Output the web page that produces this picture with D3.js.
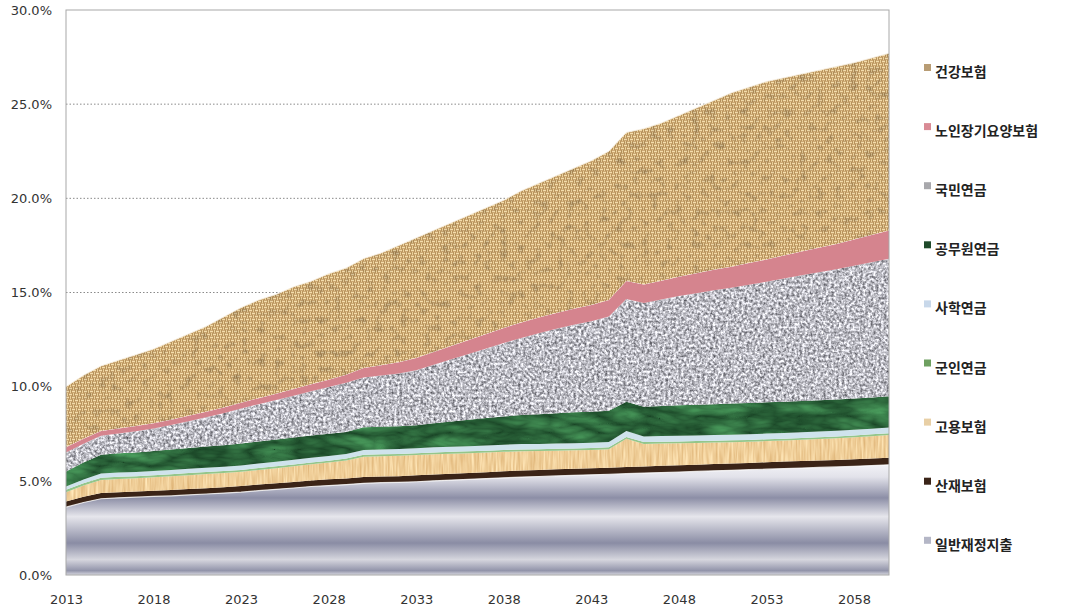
<!DOCTYPE html>
<html><head><meta charset="utf-8">
<script src="https://cdn.jsdelivr.net/npm/d3@7"></script>
<style>body{margin:0;background:#fff}svg{display:block}</style>
</head><body>
<svg id="chart" width="1068" height="610"></svg>
<script>
// ---------- data ----------
const years = [2013,2014,2015,2016,2017,2018,2019,2020,2021,2022,
  2023,2024,2025,2026,2027,2028,2029,2030,2031,2032,
  2033,2034,2035,2036,2037,2038,2039,2040,2041,2042,
  2043,2044,2045,2046,2047,2048,2049,2050,2051,2052,
  2053,2054,2055,2056,2057,2058,2059,2060];
const xTickYears = [2013,2018,2023,2028,2033,2038,2043,2048,2053,2058];
const yTicks = [0,5,10,15,20,25,30];
const gridTicks = [5,10,15,20,25];

// series (% of GDP), bottom to top of the stack
const general = [3.60,3.85,4.05,4.10,4.13,4.17,4.20,4.25,4.30,4.35,
  4.40,4.48,4.55,4.62,4.70,4.75,4.80,4.87,4.90,4.92,
  4.95,5.00,5.04,5.08,5.12,5.16,5.20,5.23,5.26,5.29,
  5.32,5.35,5.38,5.41,5.44,5.47,5.50,5.53,5.56,5.59,
  5.62,5.65,5.68,5.71,5.74,5.77,5.81,5.85];
const sanjae = [0.30,0.30,0.30,0.30,0.30,0.30,0.31,0.31,0.31,0.31,
  0.32,0.32,0.32,0.32,0.32,0.33,0.33,0.33,0.33,0.33,
  0.34,0.34,0.34,0.34,0.34,0.35,0.35,0.35,0.35,0.35,
  0.35,0.35,0.35,0.35,0.36,0.36,0.36,0.36,0.36,0.36,
  0.37,0.37,0.37,0.37,0.37,0.38,0.38,0.38];
const goyong = [0.50,0.60,0.70,0.70,0.71,0.72,0.73,0.74,0.75,0.75,
  0.76,0.78,0.80,0.83,0.86,0.89,0.95,1.08,1.08,1.08,
  1.08,1.07,1.06,1.05,1.04,1.03,1.02,1.00,0.99,0.98,
  0.97,0.98,1.50,1.20,1.18,1.16,1.15,1.14,1.13,1.12,
  1.12,1.12,1.13,1.14,1.15,1.16,1.18,1.20];
const gunin = [0.12,0.12,0.12,0.12,0.11,0.11,0.11,0.11,0.11,0.11,
  0.10,0.10,0.10,0.10,0.10,0.10,0.10,0.10,0.10,0.10,
  0.10,0.10,0.10,0.10,0.10,0.10,0.10,0.10,0.10,0.10,
  0.10,0.10,0.10,0.10,0.10,0.10,0.10,0.10,0.10,0.10,
  0.10,0.10,0.10,0.10,0.10,0.10,0.10,0.10];
const sahak = [0.18,0.20,0.22,0.22,0.22,0.22,0.23,0.23,0.23,0.23,
  0.24,0.24,0.24,0.25,0.25,0.25,0.25,0.26,0.26,0.26,
  0.26,0.27,0.27,0.27,0.28,0.28,0.28,0.28,0.28,0.28,
  0.28,0.28,0.32,0.30,0.30,0.30,0.30,0.30,0.30,0.30,
  0.30,0.30,0.30,0.30,0.30,0.30,0.30,0.30];
const gongmuwon = [0.80,0.90,1.00,1.02,1.04,1.06,1.08,1.10,1.12,1.14,
  1.16,1.17,1.18,1.18,1.18,1.18,1.16,1.20,1.20,1.21,
  1.22,1.28,1.34,1.40,1.45,1.50,1.54,1.58,1.61,1.64,
  1.65,1.66,1.55,1.58,1.60,1.62,1.63,1.64,1.65,1.66,
  1.66,1.66,1.66,1.66,1.66,1.66,1.66,1.66];
const gukmin = [1.00,1.00,1.00,1.05,1.12,1.20,1.30,1.42,1.55,1.70,
  1.86,1.98,2.10,2.22,2.35,2.48,2.62,2.65,2.72,2.80,
  2.92,3.10,3.30,3.50,3.70,3.90,4.10,4.30,4.48,4.65,
  4.80,5.00,5.45,5.50,5.65,5.80,5.92,6.05,6.15,6.28,
  6.40,6.55,6.68,6.80,6.92,7.05,7.18,7.30];
const noin = [0.28,0.27,0.26,0.27,0.28,0.28,0.29,0.30,0.30,0.31,
  0.31,0.32,0.33,0.35,0.37,0.39,0.42,0.50,0.55,0.60,
  0.65,0.68,0.71,0.74,0.77,0.80,0.82,0.83,0.84,0.85,
  0.86,0.88,0.96,0.98,1.00,1.03,1.06,1.09,1.12,1.15,
  1.18,1.22,1.26,1.30,1.34,1.39,1.44,1.50];
const geongang = [3.22,3.36,3.45,3.62,3.79,3.94,4.15,4.34,4.53,4.80,
  5.05,5.21,5.28,5.43,5.47,5.63,5.67,5.81,5.96,6.20,
  6.38,6.46,6.54,6.62,6.70,6.78,6.99,7.13,7.29,7.46,
  7.67,7.90,7.89,8.28,8.37,8.56,8.78,8.99,9.23,9.34,
  9.45,9.43,9.42,9.42,9.42,9.39,9.40,9.41];

const seriesNames = ["일반재정지출","산재보험","고용보험","군인연금","사학연금","공무원연금","국민연금","노인장기요양보험","건강보험"];
const seriesValues = [general, sanjae, goyong, gunin, sahak, gongmuwon, gukmin, noin, geongang];

// ---------- setup ----------
const svg = d3.select("#chart");
const L = 66, R = 889, T = 10, B = 575;
const x = d3.scalePoint().domain(years).range([L, R]);
const y = d3.scaleLinear().domain([0, 30]).range([B, T]);

const rows = years.map((yr, i) => {
  const r = {year: yr};
  seriesNames.forEach((n, k) => r[n] = seriesValues[k][i]);
  return r;
});
const stacked = d3.stack().keys(seriesNames)(rows);

const defs = svg.append("defs");
defs.html(`
<pattern id="burlap" width="6" height="6" patternUnits="userSpaceOnUse">
  <rect width="6" height="6" fill="#b8935c"/>
  <rect x="0" y="0" width="3" height="3" fill="#cca873"/>
  <rect x="3" y="3" width="3" height="3" fill="#cca873"/>
  <rect x="0" y="1" width="3" height="1" fill="#f4ddac"/>
  <rect x="4" y="0" width="1" height="3" fill="#ebd19c"/>
  <rect x="1" y="3" width="1" height="3" fill="#ebd19c"/>
  <rect x="3" y="4" width="3" height="1" fill="#f4ddac"/>
</pattern>
<filter id="fBurlap" x="0" y="0" width="1" height="1" color-interpolation-filters="sRGB">
  <feTurbulence type="fractalNoise" baseFrequency="0.12" numOctaves="2" seed="11" result="n"/>
  <feColorMatrix in="n" type="matrix" values="0.5 0 0 0 0.76  0.5 0 0 0 0.76  0.5 0 0 0 0.76  0 0 0 0 1" result="g"/>
  <feBlend in="SourceGraphic" in2="g" mode="multiply" result="b"/>
  <feComposite in="b" in2="SourceGraphic" operator="in"/>
</filter>
<filter id="fGranite" x="0" y="0" width="1" height="1" color-interpolation-filters="sRGB">
  <feTurbulence type="fractalNoise" baseFrequency="0.38" numOctaves="3" seed="3" result="n"/>
  <feColorMatrix in="n" type="matrix" values="1.1 0 0 0 0.19  1.1 0 0 0 0.19  1.1 0 0 0 0.22  0 0 0 0 1" result="g"/>
  <feComposite in="g" in2="SourceGraphic" operator="in"/>
</filter>
<filter id="fMarble" x="0" y="0" width="1" height="1" color-interpolation-filters="sRGB">
  <feTurbulence type="turbulence" baseFrequency="0.02 0.06" numOctaves="3" seed="7" result="n"/>
  <feColorMatrix in="n" type="matrix" values="0.25 0 0 0 0.1  0.45 0 0 0 0.27  0.28 0 0 0 0.15  0 0 0 0 1" result="g"/>
  <feComposite in="g" in2="SourceGraphic" operator="in"/>
</filter>
<filter id="fBeige" x="0" y="0" width="1" height="1" color-interpolation-filters="sRGB">
  <feTurbulence type="fractalNoise" baseFrequency="0.5 0.04" numOctaves="2" seed="2" result="n"/>
  <feColorMatrix in="n" type="matrix" values="0.18 0 0 0 0.85  0.28 0 0 0 0.67  0.36 0 0 0 0.42  0 0 0 0 1" result="g"/>
  <feComposite in="g" in2="SourceGraphic" operator="in"/>
</filter>
<linearGradient id="metal" gradientUnits="userSpaceOnUse" x1="0" x2="0" y1="${y(d3.max(general))}" y2="${y(0)}">
  <stop offset="0" stop-color="#f2f2f6"/>
  <stop offset="0.11" stop-color="#e2e2ea"/>
  <stop offset="0.30" stop-color="#8c8ea6"/>
  <stop offset="0.47" stop-color="#e6e6ec"/>
  <stop offset="0.71" stop-color="#8a8ca4"/>
  <stop offset="0.86" stop-color="#d6d6de"/>
  <stop offset="0.96" stop-color="#9294aa"/>
  <stop offset="1" stop-color="#d8d8e0"/>
</linearGradient>
`);

const fills = {
  "일반재정지출": {fill: "url(#metal)"},
  "산재보험": {fill: "#3b2417"},
  "고용보험": {fill: "#f0cf98", filter: "url(#fBeige)"},
  "군인연금": {fill: "#94c68a"},
  "사학연금": {fill: "#cfe3ec"},
  "공무원연금": {fill: "#1f522e", filter: "url(#fMarble)"},
  "국민연금": {fill: "#b0b0b8", filter: "url(#fGranite)"},
  "노인장기요양보험": {fill: "#d5848e"},
  "건강보험": {fill: "url(#burlap)", filter: "url(#fBurlap)"}
};
const legendColors = {
  "일반재정지출": "#b4b6c6",
  "산재보험": "#3a2418",
  "고용보험": "#e8cfa5",
  "군인연금": "#6ea060",
  "사학연금": "#c8d8ea",
  "공무원연금": "#1f4a2a",
  "국민연금": "#a8a8ac",
  "노인장기요양보험": "#d98b95",
  "건강보험": "#b89c74"
};

// gridlines
svg.append("g").selectAll("line").data(gridTicks).join("line")
  .attr("x1", L).attr("x2", R)
  .attr("y1", d => y(d)).attr("y2", d => y(d))
  .attr("stroke", "#8a8a8a").attr("stroke-width", 1)
  .attr("stroke-dasharray", "1.5,2");

// areas
const area = d3.area()
  .x(d => x(d.data.year))
  .y0(d => y(d[0]))
  .y1(d => y(d[1]));

const gA = svg.append("g");
stacked.forEach(s => {
  const f = fills[s.key];
  const p = gA.append("path").datum(s).attr("d", area).attr("fill", f.fill);
  if (f.filter) p.attr("filter", f.filter);
});

// subtle light edge on top of some layers
const topLine = d3.line().x(d => x(d.data.year)).y(d => y(d[1]));
gA.append("path").datum(stacked[0]).attr("d", topLine)
  .attr("fill", "none").attr("stroke", "#ffffff").attr("stroke-opacity", 0.8).attr("stroke-width", 1.2);
gA.append("path").datum(stacked[8]).attr("d", topLine)
  .attr("fill", "none").attr("stroke", "#f4ead8").attr("stroke-opacity", 0.8).attr("stroke-width", 1);

// plot border
svg.append("rect").attr("x", L).attr("y", T).attr("width", R - L).attr("height", B - T)
  .attr("fill", "none").attr("stroke", "#a8a8a8").attr("stroke-width", 1);

// axes
const yAxis = d3.axisLeft(y).tickValues(yTicks).tickSize(0).tickPadding(14)
  .tickFormat(d => d3.format(".1f")(d) + "%");
const gy = svg.append("g").attr("transform", `translate(${L},0)`).call(yAxis);
gy.select(".domain").remove();
gy.selectAll("text").attr("font-family", "DejaVu Sans").attr("font-size", 13).attr("fill", "#333");

const xAxis = d3.axisBottom(x).tickValues(xTickYears).tickSize(0).tickPadding(20)
  .tickFormat(d => String(d));
const gx = svg.append("g").attr("transform", `translate(0,${B})`).call(xAxis);
gx.select(".domain").remove();
gx.selectAll("text").attr("font-family", "DejaVu Sans").attr("font-size", 13).attr("fill", "#333");

// legend
const legendOrder = seriesNames.slice().reverse();
const lg = svg.append("g").attr("transform", "translate(924,0)");
legendOrder.forEach((n, i) => {
  const cy = 72 + i * 59.1;
  lg.append("rect").attr("x", 0).attr("y", cy - 8).attr("width", 7).attr("height", 7)
    .attr("fill", legendColors[n]);
  lg.append("text").attr("x", 11).attr("y", cy + 5)
    .attr("font-family", "Noto Sans CJK KR").attr("font-weight", 700)
    .attr("font-size", 14).attr("fill", "#222").text(n);
});
</script>
</body></html>
